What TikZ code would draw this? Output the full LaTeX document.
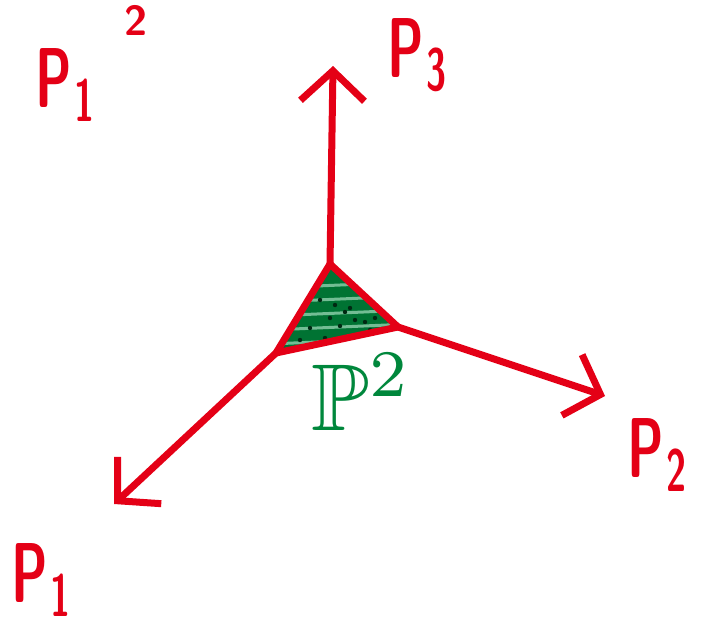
\documentclass[tikz,border=0pt]{standalone}
\usepackage{amssymb}
\usepackage{graphicx}
\usetikzlibrary{arrows.meta}
\definecolor{pen}{RGB}{228,0,22}
\definecolor{gpen}{RGB}{0,135,60}
\tikzset{
  axis/.style={draw=pen,line width=7pt,line cap=round,-{Straight Barb[length=30pt,width=64pt,line width=7pt]}},
  edge/.style={draw=pen,line width=7pt,line join=round},
  lab/.style={text=pen,inner sep=0pt},
  glab/.style={text=gpen,inner sep=0pt}
}
\newcommand{\plab}[1]{\scalebox{5.2}[8.5]{\sffamily\bfseries P\kern0.05em\textsubscript{#1}}}
\begin{document}
\begin{tikzpicture}[x=1pt,y=-1pt]
\useasboundingbox (0,0) rectangle (703,638);
\coordinate (t) at (330,264);
\coordinate (r) at (398,327);
\coordinate (l) at (276,353);
\coordinate (e3) at (333,66);
\coordinate (e2) at (605,396);
\coordinate (e1) at (114,504);
% shaded triangle
\fill[gpen!85!black] (t) -- (r) -- (l) -- cycle;
\begin{scope}
\clip (t) -- (r) -- (l) -- cycle;
\foreach \yy in {288,302,316,330,344} {
  \draw[gpen!55!white,line width=3pt] (270,\yy) -- (410,\yy-6);
}
\foreach \px/\py in {320/300,335/305,345/312,330/318,355/320,365/322,310/328,340/326,375/318,300/340,325/338,350/308,370/330}
  \fill[black!70!gpen] (\px,\py) circle (2.2pt);
\end{scope}
\draw[edge] (t) -- (r) -- (l) -- cycle;
\draw[axis] (t) -- (e3);
\draw[axis] (r) -- (e2);
\draw[axis] (l) -- (e1);
\node[lab] (p3) at (418,55) {\plab{3}};
\node[lab] (p2) at (658,455) {\plab{2}};
\node[lab] (p1b) at (42,580) {\plab{1}};
\node[lab] (p1t) at (66,85) {\plab{1}};
\node[lab] (sup) at (136,20) {\scalebox{4.2}{\sffamily\bfseries 2}};
\node[glab] (pp) at (362,392) {\scalebox{9.5}{$\mathbb{P}^2$}};
\end{tikzpicture}
\end{document}
